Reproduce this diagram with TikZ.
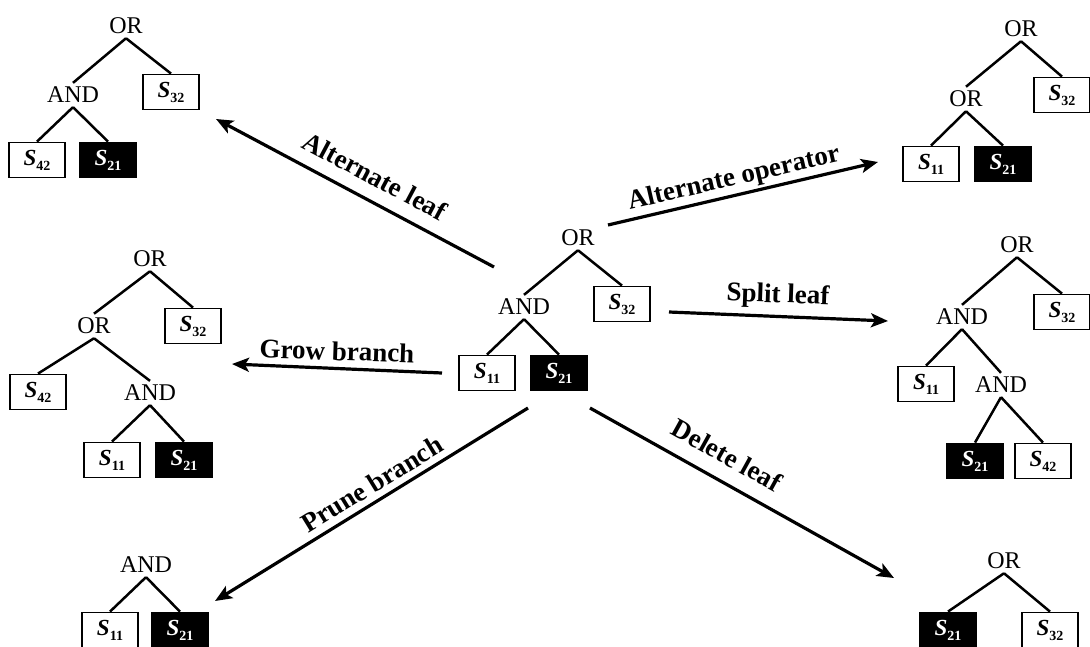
\documentclass[tikz,border=0pt]{standalone}
\usepackage{fontspec}
\setmainfont{Liberation Serif}
\usetikzlibrary{arrows.meta}
\newcommand{\lfs}[1]{{\bfseries\itshape S}\raisebox{-5pt}{\fontsize{14}{14}\selectfont\bfseries #1}}
\begin{document}
\begin{tikzpicture}[x=1pt,y=-1pt,
 op/.style={font=\fontsize{24}{24}\selectfont, inner sep=4pt},
 leaf/.style={draw, line width=1.8pt, minimum width=56pt, minimum height=35pt, inner sep=0pt, font=\fontsize{23}{23}\selectfont},
 leafb/.style={leaf, fill=black, text=white},
 br/.style={line width=2.5pt},
 arr/.style={line width=3.2pt, -{Stealth[length=17pt,width=14pt,inset=4pt]}},
 lab/.style={font=\fontsize{27}{27}\selectfont\bfseries, inner sep=0pt}]
\fill[white] (0,0) rectangle (1090,646);
\useasboundingbox (0,0) rectangle (1090,646);

% Tree A (top-left): Alternate leaf
\node[op] (aor) at (126,26) {OR};
\node[op] (aand) at (73,95) {AND};
\node[leaf] (as32) at (171,92) {\lfs{32}};
\node[leaf] (as42) at (37,160) {\lfs{42}};
\node[leafb] (as21) at (108,160) {\lfs{21}};
\draw[br] (aor.south) -- (aand.north);
\draw[br] (aor.south) -- (as32.north);
\draw[br] (aand.south) -- (as42.north);
\draw[br] (aand.south) -- (as21.north);

% Centre tree
\node[op] (cor) at (578,238) {OR};
\node[op] (cand) at (524,307) {AND};
\node[leaf] (cs32) at (622,304) {\lfs{32}};
\node[leaf] (cs11) at (487,373) {\lfs{11}};
\node[leafb] (cs21) at (559,373) {\lfs{21}};
\draw[br] (cor.south) -- (cand.north);
\draw[br] (cor.south) -- (cs32.north);
\draw[br] (cand.south) -- (cs11.north);
\draw[br] (cand.south) -- (cs21.north);

% Tree B (top-right): Alternate operator
\node[op] (bor) at (1021,29) {OR};
\node[op] (bor2) at (966,99) {OR};
\node[leaf] (bs32) at (1062,95) {\lfs{32}};
\node[leaf] (bs11) at (931,164) {\lfs{11}};
\node[leafb] (bs21) at (1003,164) {\lfs{21}};
\draw[br] (bor.south) -- (bor2.north);
\draw[br] (bor.south) -- (bs32.north);
\draw[br] (bor2.south) -- (bs11.north);
\draw[br] (bor2.south) -- (bs21.north);

% Tree D (mid-left): Grow branch
\node[op] (dor) at (150,259) {OR};
\node[op] (dor2) at (94,326) {OR};
\node[leaf] (ds32) at (193,326) {\lfs{32}};
\node[leaf] (ds42) at (38,392) {\lfs{42}};
\node[op] (dand) at (150,393) {AND};
\node[leaf] (ds11) at (112,460) {\lfs{11}};
\node[leafb] (ds21) at (184,460) {\lfs{21}};
\draw[br] (dor.south) -- (dor2.north);
\draw[br] (dor.south) -- (ds32.north);
\draw[br] (dor2.south) -- (ds42.north);
\draw[br] (dor2.south) -- (dand.north);
\draw[br] (dand.south) -- (ds11.north);
\draw[br] (dand.south) -- (ds21.north);

% Tree E (mid-right): Split leaf
\node[op] (eor) at (1017,245) {OR};
\node[op] (eand) at (962,317) {AND};
\node[leaf] (es32) at (1062,312) {\lfs{32}};
\node[leaf] (es11) at (926,384) {\lfs{11}};
\node[op] (eand2) at (1001,385) {AND};
\node[leafb] (es21) at (975,461) {\lfs{21}};
\node[leaf] (es42) at (1043,461) {\lfs{42}};
\draw[br] (eor.south) -- (eand.north);
\draw[br] (eor.south) -- (es32.north);
\draw[br] (eand.south) -- (es11.north);
\draw[br] (eand.south) -- (eand2.north);
\draw[br] (eand2.south) -- (es21.north);
\draw[br] (eand2.south) -- (es42.north);

% Tree F (bottom-left): Prune branch
\node[op] (fand) at (146,565) {AND};
\node[leaf] (fs11) at (110,630) {\lfs{11}};
\node[leafb] (fs21) at (180,630) {\lfs{21}};
\draw[br] (fand.south) -- (fs11.north);
\draw[br] (fand.south) -- (fs21.north);

% Tree G (bottom-right): Delete leaf
\node[op] (gor) at (1004,561) {OR};
\node[leafb] (gs21) at (948,630) {\lfs{21}};
\node[leaf] (gs32) at (1050,630) {\lfs{32}};
\draw[br] (gor.south) -- (gs21.north);
\draw[br] (gor.south) -- (gs32.north);

% Arrow end points
\coordinate (a1s) at (494,267);
\coordinate (a1e) at (216,119);
\coordinate (a2s) at (608,225);
\coordinate (a2e) at (878,162);
\coordinate (a3s) at (669,312);
\coordinate (a3e) at (888,321);
\coordinate (a4s) at (442,373);
\coordinate (a4e) at (232,364);
\coordinate (a5s) at (528,408);
\coordinate (a5e) at (215,601);
\coordinate (a6s) at (590,408);
\coordinate (a6e) at (894,578);

\draw[arr] (a1s) -- (a1e);
\draw[arr] (a2s) -- (a2e);
\draw[arr] (a3s) -- (a3e);
\draw[arr] (a4s) -- (a4e);
\draw[arr] (a5s) -- (a5e);
\draw[arr] (a6s) -- (a6e);

% Labels
\node[lab, rotate=-28] (l1) at (375,176) {Alternate leaf};
\node[lab, rotate=13] (l2) at (734,179) {Alternate operator};
\node[lab, rotate=-2] (l3) at (778,296) {Split leaf};
\node[lab, rotate=-2] (l4) at (337,351) {Grow branch};
\node[lab, rotate=31.5] (l5) at (372,484) {Prune branch};
\node[lab, rotate=-29] (l6) at (727,455) {Delete leaf};
\end{tikzpicture}
\end{document}
